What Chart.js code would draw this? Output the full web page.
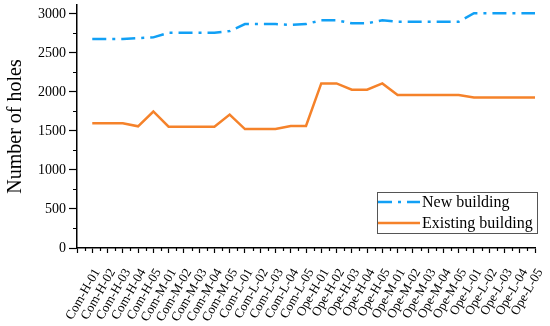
<!DOCTYPE html>
<html>
<head>
<meta charset="utf-8">
<script src="https://cdn.jsdelivr.net/npm/chart.js@4"></script>
<style>
  html, body { margin: 0; padding: 0; background: #fff; }
  #wrap { width: 550px; height: 326px; position: relative; }
</style>
</head>
<body>
<div id="wrap"><canvas id="holesChart"></canvas></div>
<script>
  // categories along the x axis
  const categories = [
    "Com-H-01", "Com-H-02", "Com-H-03", "Com-H-04", "Com-H-05",
    "Com-M-01", "Com-M-02", "Com-M-03", "Com-M-04", "Com-M-05",
    "Com-L-01", "Com-L-02", "Com-L-03", "Com-L-04", "Com-L-05",
    "Ope-H-01", "Ope-H-02", "Ope-H-03", "Ope-H-04", "Ope-H-05",
    "Ope-M-01", "Ope-M-02", "Ope-M-03", "Ope-M-04", "Ope-M-05",
    "Ope-L-01", "Ope-L-02", "Ope-L-03", "Ope-L-04", "Ope-L-05"
  ];

  const newBuilding = [
    2680, 2680, 2680, 2690, 2700,
    2760, 2760, 2760, 2760, 2780,
    2870, 2870, 2870, 2860, 2870,
    2920, 2920, 2880, 2880, 2920,
    2900, 2900, 2900, 2900, 2900,
    3010, 3010, 3010, 3010, 3010
  ];

  const existingBuilding = [
    1600, 1600, 1600, 1560, 1750,
    1555, 1555, 1555, 1555, 1710,
    1525, 1525, 1525, 1565, 1565,
    2110, 2110, 2030, 2030, 2110,
    1960, 1960, 1960, 1960, 1960,
    1930, 1930, 1930, 1930, 1930
  ];

  const yTicks = [0, 500, 1000, 1500, 2000, 2500, 3000];

  const SERIF = "'Liberation Serif', 'Times New Roman', serif";
  const BLUE = "#11a0f5";
  const ORANGE = "#f5822a";

  const toPoints = arr => arr.map((v, i) => ({ x: i + 1, y: v }));

  // short ticks between the major ones, on both axes
  const minorTicks = {
    id: "minorTicks",
    afterDraw(chart) {
      const ctx = chart.ctx;
      const xs = chart.scales.x, ys = chart.scales.y;
      ctx.save();
      ctx.strokeStyle = "#000";
      ctx.lineWidth = 1.2;
      ctx.beginPath();
      for (let v = 0.5; v < categories.length; v += 1) {
        const px = Math.round(xs.getPixelForValue(v)) + 0.5;
        ctx.moveTo(px, ys.bottom);
        ctx.lineTo(px, ys.bottom + 3);
      }
      for (let v = 250; v < ys.max; v += 500) {
        const py = Math.round(ys.getPixelForValue(v)) + 0.5;
        ctx.moveTo(xs.left, py);
        ctx.lineTo(xs.left - 4, py);
      }
      ctx.stroke();
      ctx.restore();
    }
  };

  // boxed legend sitting in the lower right of the plot
  const boxLegend = {
    id: "boxLegend",
    afterDraw(chart) {
      const ctx = chart.ctx;
      const x0 = 377, y0 = 192, w = 160, h = 41;
      ctx.save();
      ctx.fillStyle = "#fff";
      ctx.fillRect(x0, y0, w, h);
      ctx.strokeStyle = "#555";
      ctx.lineWidth = 1;
      ctx.strokeRect(x0 + 0.5, y0 + 0.5, w, h);
      ctx.font = "16px " + SERIF;
      ctx.textBaseline = "middle";
      chart.data.datasets.forEach((ds, i) => {
        const cy = y0 + 10 + i * 21;
        ctx.strokeStyle = ds.borderColor;
        ctx.lineWidth = ds.borderWidth;
        ctx.setLineDash(ds.borderDash || []);
        ctx.beginPath();
        ctx.moveTo(x0 + 1, cy);
        ctx.lineTo(x0 + 43, cy);
        ctx.stroke();
        ctx.setLineDash([]);
        ctx.fillStyle = "#000";
        ctx.fillText(ds.label, x0 + 45, cy + 1);
      });
      ctx.restore();
    }
  };

  new Chart(document.getElementById("holesChart"), {
    type: "line",
    data: {
      datasets: [
        {
          label: "New building",
          data: toPoints(newBuilding),
          borderColor: BLUE,
          borderWidth: 2.5,
          borderDash: [14, 6, 3, 6],
          pointRadius: 0,
          tension: 0
        },
        {
          label: "Existing building",
          data: toPoints(existingBuilding),
          borderColor: ORANGE,
          borderWidth: 2.5,
          pointRadius: 0,
          tension: 0
        }
      ]
    },
    options: {
      responsive: true,
      maintainAspectRatio: false,
      animation: false,
      layout: { padding: { top: 5, right: 15, left: 0, bottom: 0 } },
      plugins: {
        legend: { display: false },
        tooltip: { enabled: false }
      },
      scales: {
        x: {
          type: "linear",
          min: 0,
          max: categories.length,
          afterFit: s => { s.height = 78; s.paddingLeft = 0; s.paddingRight = 0; },
          border: { display: true, color: "#000", width: 1.5 },
          grid: { drawOnChartArea: false, drawTicks: true, tickLength: 5, tickColor: "#000", tickWidth: 1.2 },
          ticks: {
            stepSize: 1,
            autoSkip: false,
            maxRotation: 60,
            minRotation: 60,
            padding: 13,
            labelOffset: 5,
            color: "#000",
            font: { family: SERIF, size: 13 },
            callback: v => categories[v - 1] || ""
          }
        },
        y: {
          min: 0,
          max: 3115,
          afterFit: s => { s.width = 77; s.paddingTop = 0; s.paddingBottom = 0; },
          afterBuildTicks: s => { s.ticks = yTicks.map(v => ({ value: v })); },
          border: { display: true, color: "#000", width: 1.5 },
          grid: { drawOnChartArea: false, drawTicks: true, tickLength: 8, tickColor: "#000", tickWidth: 1.2 },
          ticks: {
            padding: 3,
            color: "#000",
            font: { family: SERIF, size: 14 },
            callback: v => String(v)
          },
          title: {
            display: true,
            text: "Number of holes",
            color: "#000",
            font: { family: SERIF, size: 20 },
            padding: { top: 4, bottom: 4 }
          }
        }
      }
    },
    plugins: [minorTicks, boxLegend]
  });
</script>
</body>
</html>
